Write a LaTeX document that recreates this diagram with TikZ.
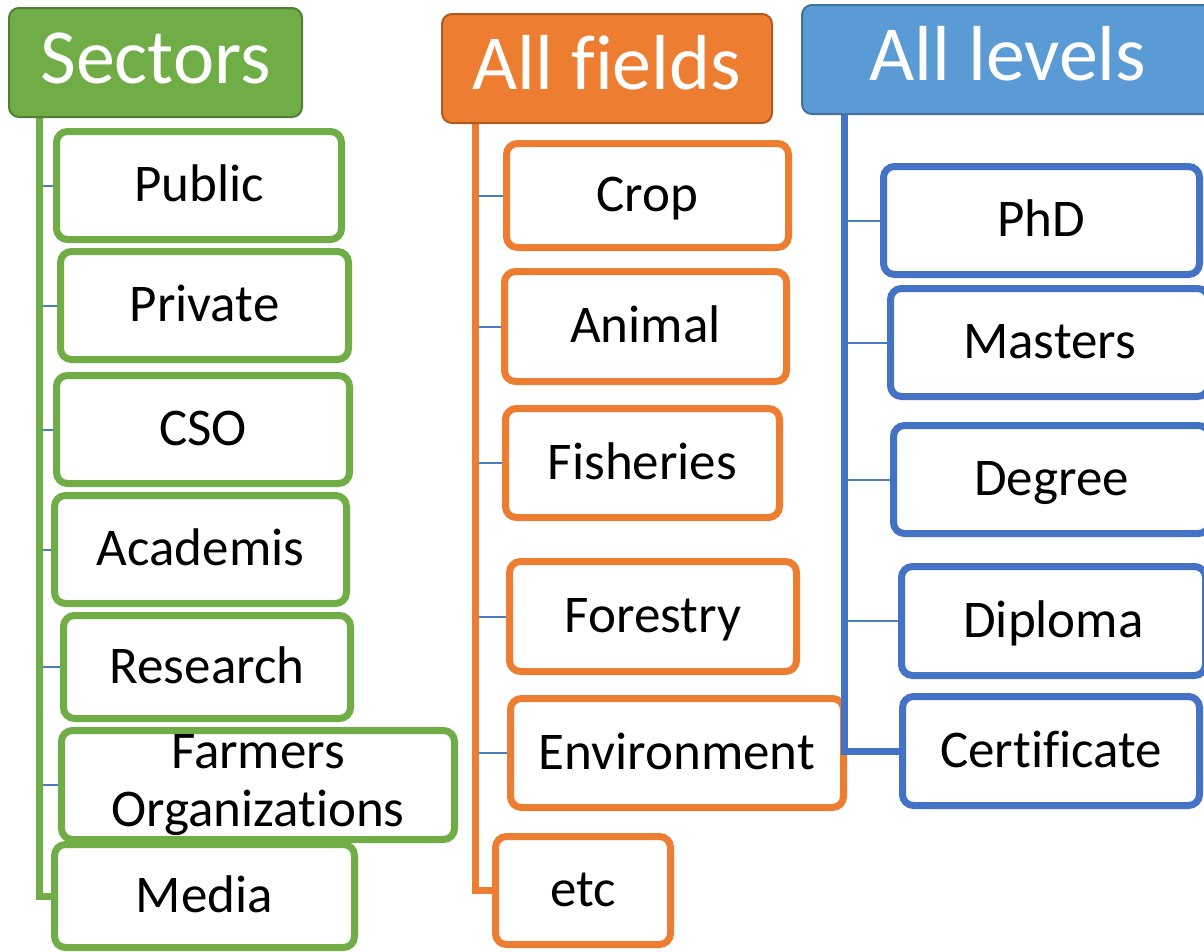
\documentclass[tikz,border=0pt]{standalone}
\usepackage{fontspec}
\setmainfont{Carlito}[Ligatures={NoCommon}]
\definecolor{gr}{HTML}{70AD47}
\definecolor{grdark}{HTML}{507E32}
\definecolor{orr}{HTML}{ED7D31}
\definecolor{ordark}{HTML}{AE5A21}
\definecolor{blh}{HTML}{5B9BD5}
\definecolor{bldark}{HTML}{41719C}
\definecolor{blb}{HTML}{4472C4}
\definecolor{tickc}{HTML}{4A7EBB}
\pgfdeclarelayer{bg}
\pgfdeclarelayer{mid}
\pgfdeclarelayer{front}
\pgfsetlayers{bg,main,mid,front}
\tikzset{
  hdr/.style={rectangle, rounded corners=10pt, line width=2pt, inner sep=0pt,
    text=white, font=\fontsize{78}{90}\selectfont, text height=51pt, text depth=9pt},
  item/.style={rectangle, rounded corners=11pt, line width=7pt, fill=white, inner sep=0pt,
    text=black, font=\fontsize{53}{58}\selectfont},
  oneline/.style={text height=37pt, text depth=5pt},
  gitem/.style={item, oneline, draw=gr},
  oitem/.style={item, oneline, draw=orr},
  bitem/.style={item, oneline, draw=blb},
  tickline/.style={draw=tickc, line width=2pt},
  bus/.style={line width=7pt},
}
\begin{document}
\begin{tikzpicture}[x=1pt,y=-1pt]
\useasboundingbox (0,0) rectangle (1204,951);
\clip (0,0) rectangle (1204,951);
\begin{pgfonlayer}{bg}
\fill[white] (0,0) rectangle (1204,951);
\end{pgfonlayer}

% ---------- Sectors ----------
\node[hdr, fill=gr, draw=grdark, minimum width=293pt, minimum height=109pt] (sectors) at (155.5,62.5) {Sectors};
\coordinate (gbus) at (39,118);
\node[gitem, minimum width=285pt, minimum height=108pt] (public) at (199,185.5) {Public};
\node[gitem, minimum width=288pt, minimum height=108pt] (private) at (204.5,305.5) {Private};
\node[gitem, minimum width=293pt, minimum height=108pt] (cso) at (203,429.5) {CSO};
\node[gitem, minimum width=292pt, minimum height=108pt] (academis) at (200.5,549.5) {Academis};
\node[gitem, minimum width=287pt, minimum height=103pt] (research) at (207,667) {Research};
\node[item, draw=gr, align=center, minimum width=393pt, minimum height=109pt] (farmers) at (258,785) {Farmers\\Organizat\kern0pt ions};
\node[gitem, minimum width=300pt, minimum height=103pt] (media) at (204.5,896) {Media};

% ---------- All fields ----------
\node[hdr, fill=orr, draw=ordark, minimum width=330pt, minimum height=109pt] (fields) at (607,68.5) {All f\kern0pt ields};
\coordinate (obus) at (475,124);
\node[oitem, minimum width=282pt, minimum height=104pt] (crop) at (647.5,195.5) {Crop};
\node[oitem, minimum width=282pt, minimum height=110pt] (animal) at (645.5,326.5) {Animal};
\node[oitem, minimum width=274pt, minimum height=109pt] (fisheries) at (642.5,463) {Fisheries};
\node[oitem, minimum width=287pt, minimum height=110pt] (forestry) at (653,616.5) {Forestry};
\node[oitem, minimum width=333pt, minimum height=109pt] (environment) at (677,753) {Environment};
\node[oitem, minimum width=175pt, minimum height=108pt] (etc) at (583,890.5) {etc};

% ---------- All levels ----------
\begin{pgfonlayer}{front}
\node[hdr, fill=blh, draw=bldark, minimum width=412pt, minimum height=109pt] (levels) at (1008,59.5) {All levels};
\coordinate (bbus) at (844,115);
\node[bitem, minimum width=316pt, minimum height=108pt] (phd) at (1041.5,220.5) {PhD};
\node[bitem, minimum width=318pt, minimum height=108pt] (masters) at (1049.5,342.5) {Masters};
\node[bitem, minimum width=316pt, minimum height=108pt] (degree) at (1051.5,479.5) {Degree};
\node[bitem, minimum width=304pt, minimum height=109pt] (diploma) at (1053.5,621) {Diploma};
\node[bitem, minimum width=297pt, minimum height=109pt] (certificate) at (1051,751) {Certificate};
\end{pgfonlayer}

% ---------- connectors ----------
\begin{pgfonlayer}{bg}
\draw[bus, gr] (gbus) |- (media.west);
\foreach \n in {public,private,cso,academis,research,farmers}
  \draw[tickline] (gbus |- \n.west) ++(3.5,0) -- (\n.west);
\draw[bus, orr] (obus) |- (etc.west);
\foreach \n in {crop,animal,fisheries,forestry,environment}
  \draw[tickline] (obus |- \n.west) ++(3.5,0) -- (\n.west);
\end{pgfonlayer}
\begin{pgfonlayer}{mid}
\draw[bus, blb] (bbus) |- (certificate.west);
\foreach \n in {phd,masters,degree,diploma}
  \draw[tickline] (bbus |- \n.west) ++(3.5,0) -- (\n.west);
\end{pgfonlayer}
\end{tikzpicture}
\end{document}
